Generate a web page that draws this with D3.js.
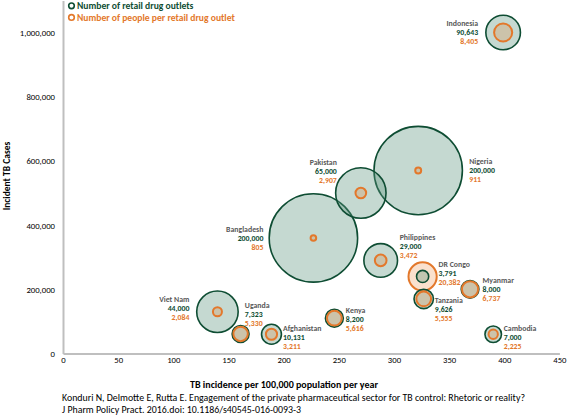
<!DOCTYPE html>
<html><head><meta charset="utf-8">
<script src="https://cdn.jsdelivr.net/npm/d3@7/dist/d3.min.js"></script>
<style>
body{margin:0;background:#fff;}
svg{display:block;font-family:Carlito, Lato, "Open Sans", sans-serif;}
</style></head>
<body>
<svg id="chart" width="567" height="416"></svg>
<script>
// ---- data ----
const countries = ["Indonesia","Nigeria","Pakistan","Bangladesh","Philippines","DR Congo","Myanmar","Tanzania","Kenya","Cambodia","Afghanistan","Uganda","Viet Nam"];
const incidence = [399, 322, 270, 227, 288, 326, 369, 327, 246, 390, 189, 161, 140];
const tbCases   = [1000000, 570000, 500000, 360000, 290000, 240000, 200000, 170000, 110000, 60000, 60000, 61000, 130000];
// bubble sizes as drawn
const outlets   = [30643, 200000, 65000, 200000, 29000, 3791, 8000, 9626, 8200, 7000, 10131, 7323, 44000];
const people    = [8405, 911, 2907, 805, 3472, 20382, 6737, 5555, 5616, 2225, 3211, 5330, 2084];
// printed labels
const outletLabels = ["90,643","200,000","65,000","200,000","29,000","3,791","8,000","9,626","8,200","7,000","10,131","7,323","44,000"];
const peopleLabels = ["8,405","911","2,907","805","3,472","20,382","6,737","5,555","5,616","2,225","3,211","5,330","2,084"];
const xTicks = [0,50,100,150,200,250,300,350,400,450];
const yTicks = [0,200000,400000,600000,800000,1000000];
const legendLabels = ["Number of retail drug outlets","Number of people per retail drug outlet"];

// ---- label layout (offsets from bubble centre) ----
const labelLayout = [
  {dx:-25, dy:-9, a:"end"},   // Indonesia
  {dx:51, dy:-9, a:"start"},  // Nigeria
  {dx:-24, dy:-31, a:"end"},  // Pakistan
  {dx:-50, dy:-8.5, a:"end"}, // Bangladesh
  {dx:19, dy:-23, a:"start"}, // Philippines
  {dx:16, dy:-12.5, a:"start"}, // DR Congo
  {dx:12.5, dy:-9.3, a:"start"}, // Myanmar
  {dx:11, dy:1.5, a:"start"}, // Tanzania
  {dx:11.5, dy:-8.4, a:"start"}, // Kenya
  {dx:10.5, dy:-6.2, a:"start"}, // Cambodia
  {dx:11.5, dy:-6.4, a:"start"}, // Afghanistan
  {dx:4.2, dy:-29, a:"start"}, // Uganda
  {dx:-28, dy:-12.3, a:"end"}  // Viet Nam
];

const GREEN = "#0e4d33", ORANGE = "#e3782b", GRAY = "#595959";
const svg = d3.select("#chart");
const x = d3.scaleLinear().domain([0,450]).range([63,559.4]);
const y = d3.scaleLinear().domain([0,1100000]).range([353.5,0.4]);
const r = d3.scaleSqrt().domain([0,200000]).range([0,44.2]);

// axes
const xAxis = svg.append("g").attr("transform","translate(0,353.5)")
  .call(d3.axisBottom(x).tickValues(xTicks).tickSize(0).tickPadding(7).tickFormat(d3.format("d")));
const yAxis = svg.append("g").attr("transform","translate(63,0)")
  .call(d3.axisLeft(y).tickValues(yTicks).tickSize(0).tickPadding(8).tickFormat(d3.format(",")));
[xAxis,yAxis].forEach(g=>{
  g.select(".domain").attr("stroke","#bfbfbf").attr("stroke-width",2);
  g.selectAll("text").attr("font-size",8.7).attr("fill","#000").attr("font-family","Carlito, Lato, sans-serif");
});
xAxis.selectAll("text").attr("dy","0.3em");
yAxis.selectAll("text").attr("dy","0.35em");

// bubbles
const bubbles = [];
countries.forEach((c,i)=>{
  bubbles.push({i, kind:"g", v:outlets[i]});
  bubbles.push({i, kind:"o", v:people[i]});
});
bubbles.sort((a,b)=>b.v-a.v);
svg.append("g").selectAll("circle").data(bubbles).join("circle")
  .attr("cx",d=>x(incidence[d.i]))
  .attr("cy",d=>y(tbCases[d.i]))
  .attr("r",d=>r(d.v))
  .attr("fill",d=>d.kind==="g" ? "rgba(95,150,128,0.36)" : "rgba(232,119,34,0.22)")
  .attr("stroke",d=>d.kind==="g" ? GREEN : ORANGE)
  .attr("stroke-width",d=>d.kind==="g" ? 1.6 : 2);

// data labels
const lab = svg.append("g").attr("font-size",7.8).attr("font-weight","bold");
countries.forEach((c,i)=>{
  const L = labelLayout[i];
  const cx = x(incidence[i]) + L.dx, cy = y(tbCases[i]) + L.dy;
  const lines = [[c,GRAY],[outletLabels[i],GREEN],[peopleLabels[i],ORANGE]];
  lines.forEach((ln,k)=>{
    lab.append("text").attr("x",cx).attr("y",cy+k*9).attr("dy","0.35em")
      .attr("text-anchor",L.a).attr("fill",ln[1]).text(ln[0]);
  });
});

// legend
const leg = svg.append("g");
legendLabels.forEach((t,k)=>{
  const col = k===0 ? GREEN : ORANGE;
  leg.append("circle").attr("cx",71.5).attr("cy",5.8+k*11.6).attr("r",2.8)
    .attr("fill","#fff").attr("stroke",col).attr("stroke-width",1.6);
  leg.append("text").attr("x",77).attr("y",5.8+k*11.6).attr("dy","0.35em")
    .attr("font-size",9.6).attr("font-weight","bold").attr("fill",col).text(t);
});

// axis titles
svg.append("text").attr("x",284).attr("y",384).attr("dy","0.35em").attr("text-anchor","middle")
  .attr("font-size",10).attr("font-weight","bold").attr("fill","#000")
  .text("TB incidence per 100,000 population per year");
svg.append("text").attr("transform","translate(2,176) rotate(-90)").attr("dy","0.8em")
  .attr("text-anchor","middle").attr("font-size",9.5).attr("font-weight","bold").attr("fill","#000")
  .text("Incident TB Cases");

// citation
svg.append("text").attr("x",62).attr("y",398).attr("dy","0.35em").attr("font-size",9.9).attr("fill","#000")
  .text("Konduri N, Delmotte E, Rutta E. Engagement of the private pharmaceutical sector for TB control: Rhetoric or reality?");
svg.append("text").attr("x",62).attr("y",410).attr("dy","0.35em").attr("font-size",9.9).attr("fill","#000")
  .text("J Pharm Policy Pract. 2016.doi: 10.1186/s40545-016-0093-3");
</script>
</body></html>
